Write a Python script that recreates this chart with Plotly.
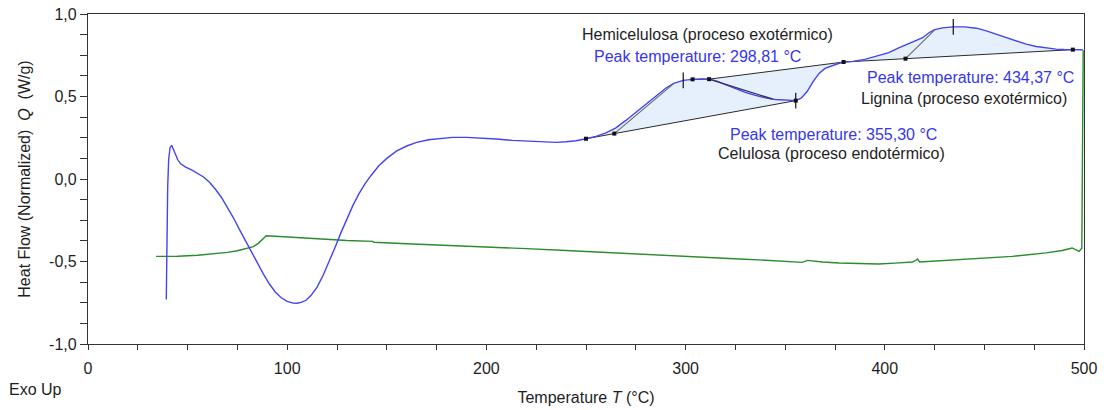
import numpy as np
import plotly.graph_objects as go

# ---- DSC signal (heat flow, W/g) vs temperature (°C) ----
blue_T = [39.3, 39.6, 40.0, 40.5, 41.2, 42.0, 43.5, 45.0, 46.5, 49, 52, 55, 58, 61, 64, 67, 70,
          73, 76, 79, 82, 85, 88, 91, 94, 97, 100, 103, 105, 107, 109.5, 112, 115, 118, 121,
          124, 127, 130, 133, 136, 139, 142, 146, 150, 155, 160, 165, 171, 177, 183, 190, 197,
          205, 213, 221, 229, 235, 240, 245, 250, 255, 260, 265, 270, 275, 280, 285, 290, 294,
          298.81, 303.5, 308, 312, 316, 320, 325, 330, 335, 340, 345, 350, 355.3, 358, 361,
          364, 367, 370, 373, 376, 379.3, 384, 390, 396, 402, 407, 411, 415, 419, 422, 425,
          429, 434.37, 440, 446, 451, 456, 461, 466, 471, 476, 481, 486, 490, 494.4, 498.5, 499.4]
blue_Q = [-0.73, -0.35, -0.05, 0.12, 0.19, 0.204, 0.165, 0.118, 0.092, 0.072, 0.055, 0.035,
          0.012, -0.02, -0.062, -0.112, -0.17, -0.235, -0.305, -0.375, -0.44, -0.51, -0.575,
          -0.635, -0.685, -0.72, -0.742, -0.752, -0.753, -0.748, -0.735, -0.705, -0.655,
          -0.585, -0.505, -0.415, -0.325, -0.24, -0.16, -0.09, -0.03, 0.02, 0.08, 0.125,
          0.17, 0.2, 0.222, 0.238, 0.247, 0.252, 0.252, 0.248, 0.242, 0.234, 0.228, 0.222,
          0.222, 0.226, 0.232, 0.244, 0.258, 0.28, 0.31, 0.355, 0.405, 0.455, 0.505, 0.55,
          0.58, 0.598, 0.604, 0.607, 0.605, 0.592, 0.572, 0.548, 0.525, 0.507, 0.492, 0.482,
          0.477, 0.475, 0.49, 0.53, 0.59, 0.64, 0.67, 0.685, 0.697, 0.709, 0.713, 0.725,
          0.745, 0.766, 0.795, 0.815, 0.832, 0.856, 0.885, 0.905, 0.916, 0.922, 0.922, 0.914,
          0.898, 0.877, 0.855, 0.835, 0.817, 0.803, 0.793, 0.787, 0.785, 0.784, 0.783, 0.783]

green_T = [34.2, 45, 55, 63, 70, 75, 80, 83, 85.5, 87.5, 89.5, 92, 96, 105, 113, 120, 130, 143,
           143.5, 160, 180, 200, 220, 240, 260, 280, 300, 327, 340, 352, 358.6, 361.2, 364,
           368.7, 377, 390, 397, 405, 413.9, 415.5, 416.4, 417.5, 430, 447, 464, 481, 489,
           494, 497.5, 498.9, 499.6]
green_Q = [-0.469, -0.468, -0.462, -0.455, -0.445, -0.435, -0.422, -0.41, -0.39, -0.365, -0.344,
           -0.345, -0.348, -0.354, -0.36, -0.366, -0.373, -0.378, -0.383, -0.392, -0.401,
           -0.411, -0.422, -0.433, -0.446, -0.458, -0.469, -0.485, -0.492, -0.503, -0.505,
           -0.493, -0.498, -0.503, -0.509, -0.513, -0.515, -0.51, -0.503, -0.494, -0.485,
           -0.503, -0.495, -0.483, -0.469, -0.448, -0.433, -0.418, -0.439, -0.42, 0.78]

# ---- evaluation results ----
peak_temps = [298.81, 355.30, 434.37]
peak_names = ["Hemicelulosa (proceso exotérmico)",
              "Celulosa (proceso endotérmico)",
              "Lignina (proceso exotérmico)"]
lower_base_T = [250.0, 355.30]          # hemicellulose / cellulose baseline
upper_base_T = [303.5, 311.8, 379.3]    # upper limit line
lignin_base_T = [379.3, 494.4]          # lignin baseline
onset_hc_T, onset_hc_end = 264.2, 294.3
cel_tan_start, cel_tan_end = 311.8, 343.6
onset_lig_T, onset_lig_end = 410.4, 425.2

x_ticks = [0, 100, 200, 300, 400, 500]
y_ticks = [-1.0, -0.5, 0.0, 0.5, 1.0]
y_tick_text = ["-1,0", "-0,5", "0,0", "0,5", "1,0"]

FONT = "Liberation Sans, Arial, sans-serif"
BLUE = "#4343f2"
GREEN = "#2a8c2a"
FILL = "#e6f0fc"
TXT_BLUE = "#3636ee"
TXT = "#1e1e1e"

bT = np.array(blue_T)
bQ = np.array(blue_Q)


def curve(t):
    return float(np.interp(t, bT, bQ))


def seg(t0, t1):
    inner = [t for t in blue_T if t0 < t < t1]
    ts = [t0] + inner + [t1]
    return ts, [curve(t) for t in ts]


def line_at(ta, tb, t):
    qa, qb = curve(ta), curve(tb)
    return qa + (qb - qa) * (t - ta) / (tb - ta)


fig = go.Figure()

# shaded areas between curve and integration lines
c1t, c1q = seg(lower_base_T[0], upper_base_T[0])
c2t, c2q = seg(lower_base_T[1], upper_base_T[-1])
poly_t = c1t + upper_base_T[1:] + c2t[::-1] + [lower_base_T[0]]
poly_q = c1q + [curve(t) for t in upper_base_T[1:]] + c2q[::-1] + [curve(lower_base_T[0])]
fig.add_trace(go.Scatter(x=poly_t, y=poly_q, fill="toself", fillcolor=FILL, mode="none",
                         hoverinfo="skip"))
c3t, c3q = seg(lignin_base_T[0], lignin_base_T[1])
poly_t = c3t + lignin_base_T[::-1]
poly_q = c3q + [curve(t) for t in lignin_base_T[::-1]]
fig.add_trace(go.Scatter(x=poly_t, y=poly_q, fill="toself", fillcolor=FILL, mode="none",
                         hoverinfo="skip"))

# baselines
for ts in (lower_base_T, upper_base_T, lignin_base_T):
    fig.add_trace(go.Scatter(x=ts, y=[curve(t) for t in ts], mode="lines",
                             line=dict(color="#2a2a2a", width=1)))

# green reference signal
fig.add_trace(go.Scatter(x=green_T, y=green_Q, mode="lines", line=dict(color=GREEN, width=1.4)))
# blue sample signal
fig.add_trace(go.Scatter(x=blue_T, y=blue_Q, mode="lines", line=dict(color=BLUE, width=1.4)))

# tangent lines
hc_on_q = line_at(lower_base_T[0], lower_base_T[1], onset_hc_T)
lg_on_q = line_at(lignin_base_T[0], lignin_base_T[1], onset_lig_T)
fig.add_trace(go.Scatter(x=[onset_hc_T, onset_hc_end], y=[hc_on_q, curve(onset_hc_end)],
                         mode="lines", line=dict(color="#6e6e6e", width=1.2)))
fig.add_trace(go.Scatter(x=[cel_tan_start, cel_tan_end], y=[curve(cel_tan_start), curve(cel_tan_end)],
                         mode="lines", line=dict(color="#333355", width=1.4)))
fig.add_trace(go.Scatter(x=[onset_lig_T, onset_lig_end], y=[lg_on_q, curve(onset_lig_end)],
                         mode="lines", line=dict(color="#6e6e6e", width=1.2)))

# limit points
pts_t = [lower_base_T[0], onset_hc_T, upper_base_T[0], upper_base_T[1], lower_base_T[1],
         upper_base_T[2], onset_lig_T, lignin_base_T[1]]
pts_q = [curve(lower_base_T[0]), hc_on_q, curve(upper_base_T[0]), curve(upper_base_T[1]),
         curve(lower_base_T[1]), curve(upper_base_T[2]), lg_on_q, curve(lignin_base_T[1])]
fig.add_trace(go.Scatter(x=pts_t, y=pts_q, mode="markers",
                         marker=dict(symbol="square", size=4, color="#111")))

# peak marks
for t in peak_temps:
    q = curve(t)
    fig.add_trace(go.Scatter(x=[t, t], y=[q - 0.048, q + 0.048], mode="lines",
                             line=dict(color="#111", width=1.2)))


def peak_label(t):
    return "Peak temperature: " + f"{t:.2f}".replace(".", ",") + " °C"


# labels: (x, y of name line, y of peak line)
label_pos = [(311, 0.877, 0.745), (373, 0.156, 0.27), (440, 0.49, 0.618)]
for t, name, (lx, ny, py) in zip(peak_temps, peak_names, label_pos):
    fig.add_annotation(x=lx, y=ny, text=name, showarrow=False,
                       font=dict(family=FONT, size=16, color=TXT))
    px = lx - 5 if t < 300 else lx + (1 if t < 400 else 3)
    fig.add_annotation(x=px, y=py, text=peak_label(t), showarrow=False,
                       font=dict(family=FONT, size=16, color=TXT_BLUE))

fig.add_annotation(xref="paper", yref="paper", x=-0.081, y=-0.139, xanchor="left",
                   yanchor="middle", text="Exo Up", showarrow=False,
                   font=dict(family=FONT, size=16, color=TXT))

axis_common = dict(showline=True, mirror=True, linecolor="#333", linewidth=1.3,
                   ticks="outside", tickcolor="#333", showgrid=False, zeroline=False,
                   automargin=False,
                   tickfont=dict(family=FONT, size=16, color=TXT))

fig.update_layout(
    width=1104, height=410,
    margin=dict(l=88, r=20, t=14, b=66, autoexpand=False),
    paper_bgcolor="white", plot_bgcolor="white",
    showlegend=False,
    xaxis=dict(range=[0, 500], tickvals=x_ticks, ticklen=5,
               minor=dict(dtick=25, tick0=0, ticks="outside", ticklen=5, tickcolor="#333"),
               title=dict(text="Temperature <i>T</i> (°C)", standoff=15,
                          font=dict(family=FONT, size=16, color=TXT)),
               ticklabelstandoff=5,
               **axis_common),
    yaxis=dict(range=[-1, 1], tickvals=y_ticks, ticktext=y_tick_text, ticklen=7,
               minor=dict(dtick=0.125, tick0=0, ticks="outside", ticklen=7, tickcolor="#333"),
               title=dict(text="Heat Flow (Normalized)\u00a0\u00a0<i>Q</i>\u00a0\u00a0(W/g)",
                          standoff=14, font=dict(family=FONT, size=16, color=TXT)),
               **axis_common),
)

fig.write_html("out.html")
